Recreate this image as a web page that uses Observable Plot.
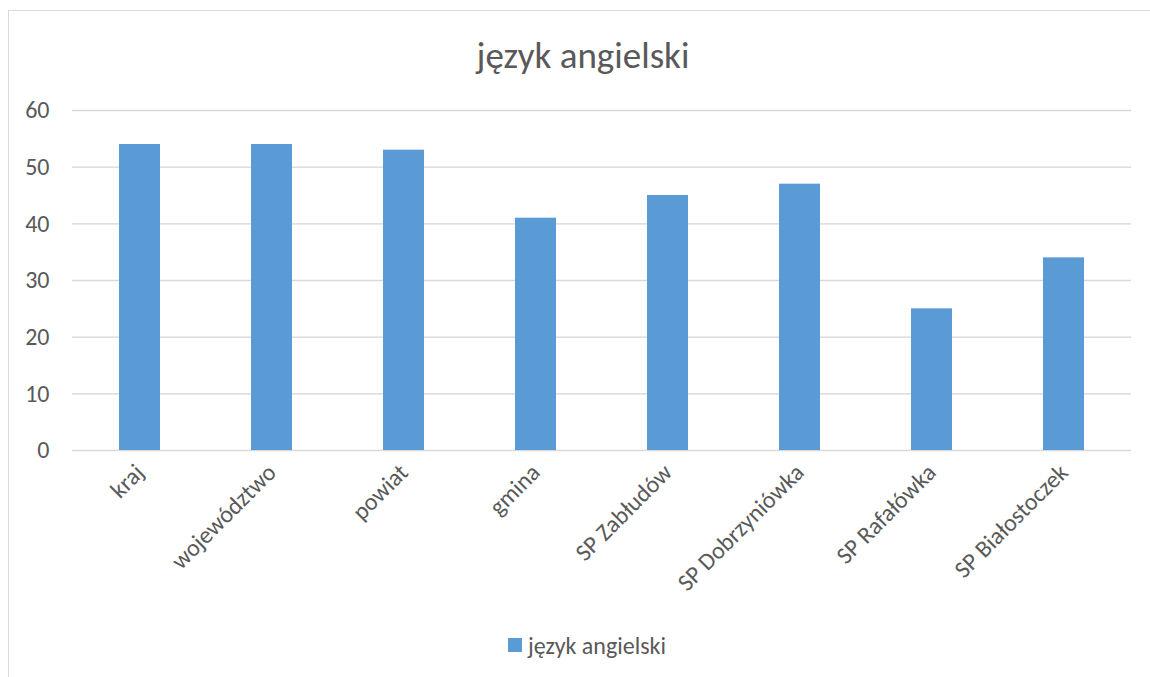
<!DOCTYPE html>
<html><head><meta charset="utf-8">
<script src="https://cdn.jsdelivr.net/npm/d3@7"></script>
<script src="https://cdn.jsdelivr.net/npm/@observablehq/plot@0.6"></script>
<style>
html,body{margin:0;padding:0;background:#fff;}
#wrap{position:relative;width:1150px;height:677px;overflow:hidden;font-family:Carlito,Calibri,Lato,sans-serif;color:#595959;}
#frame{position:absolute;left:8px;top:10px;width:1160px;height:700px;border:1.5px solid #d9d9d9;box-sizing:border-box;}
#title{position:relative;height:90px;padding-top:36px;line-height:40px;font-size:37px;text-align:center;padding-left:16px;box-sizing:border-box;width:1150px;}
#chart{position:relative;height:540px;}
#legend{position:relative;height:30px;display:flex;align-items:center;justify-content:center;padding-left:24px;box-sizing:border-box;width:1150px;font-size:24px;}
#legend .sw{width:14px;height:14px;background:#5b9bd5;margin-right:6px;}
</style></head>
<body>
<div id="wrap">
<div id="frame"></div>
<div id="title">język angielski</div>
<div id="chart"></div>
<div id="legend"><span class="sw"></span><span>język angielski</span></div>
</div>
<script>
const categories = ["kraj","województwo","powiat","gmina","SP Zabłudów","SP Dobrzyniówka","SP Rafałówka","SP Białostoczek"];
const values = [54, 54, 53, 41, 45, 47, 25, 34];
const yTicks = [0, 10, 20, 30, 40, 50, 60];
const seriesName = "język angielski";

const data = categories.map((c, i) => ({category: c, value: values[i]}));

const chart = Plot.plot({
  width: 1150,
  height: 540,
  marginTop: 20,
  marginBottom: 180,
  marginLeft: 72,
  marginRight: 19,
  style: {fontFamily: "Carlito, Calibri, Lato, sans-serif", fontSize: "24px", color: "#595959", background: "transparent"},
  x: {domain: categories, paddingInner: 0.688, paddingOuter: 0.344, label: null, tickSize: 0, tickPadding: 18, tickRotate: -45},
  y: {domain: [0, 60], ticks: yTicks, label: null, tickSize: 0, tickPadding: 23, grid: true},
  marks: [
    Plot.gridY(yTicks, {stroke: "#d9d9d9", strokeOpacity: 1, strokeWidth: 1.3}),
    Plot.barY(data, {x: "category", y: "value", fill: "#5b9bd5"})
  ]
});
document.getElementById("chart").appendChild(chart);
</script>
</body></html>
